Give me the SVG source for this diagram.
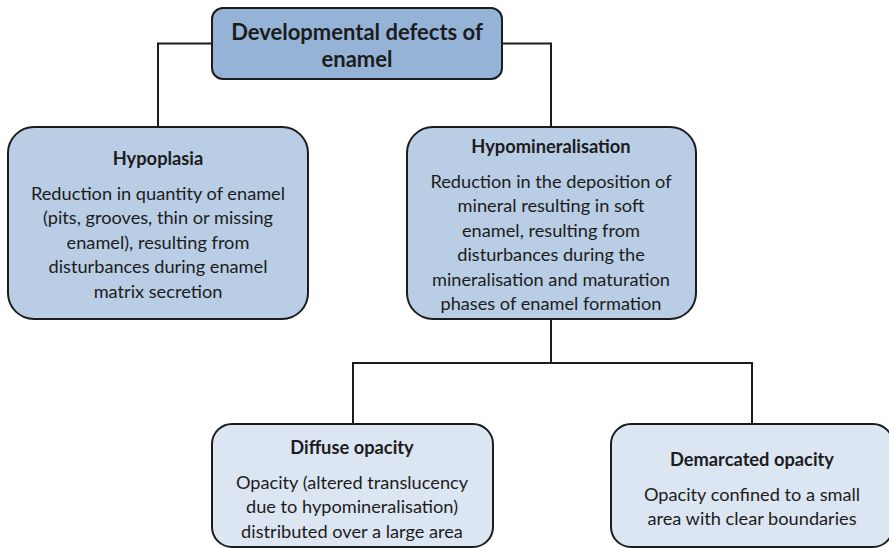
<svg xmlns="http://www.w3.org/2000/svg" width="889" height="548" viewBox="0 0 889 548">
<style>
.box{stroke:#1c1c1c;stroke-width:2}
.t{font-family:Lato,"Open Sans","Liberation Sans",sans-serif;fill:#1c1c1c;text-anchor:middle}
.h{font-weight:bold;font-size:18.3px}
.b{font-size:18.2px}
.conn{fill:none;stroke:#1c1c1c;stroke-width:2}
</style>
<rect width="889" height="548" fill="#ffffff"/>
<g id="connectors">
<path class="conn" d="M212,43.5 H158 V127"/>
<path class="conn" d="M502,43.5 H551 V127"/>
<path class="conn" d="M551,319 V363"/>
<path class="conn" d="M353,424 V363 H752 V424"/>
</g>
<g id="root">
<rect class="box" x="212" y="8" width="290" height="71" rx="11" fill="#95B3D7"/>
<text class="t" x="357" y="40" style="font-weight:bold;font-size:22px">Developmental defects of</text>
<text class="t" x="357" y="67" style="font-weight:bold;font-size:22px">enamel</text>
</g>
<g id="hypoplasia">
<rect class="box" x="8" y="127" width="300" height="192" rx="26" fill="#B9CDE5"/>
<text class="t h" x="158" y="165">Hypoplasia</text>
<text class="t b" x="158" y="199.5">Reduction in quantity of enamel</text>
<text class="t b" x="158" y="224">(pits, grooves, thin or missing</text>
<text class="t b" x="158" y="248.5">enamel), resulting from</text>
<text class="t b" x="158" y="273">disturbances during enamel</text>
<text class="t b" x="158" y="297.5">matrix secretion</text>
</g>
<g id="hypomineralisation">
<rect class="box" x="407" y="127" width="289" height="192" rx="26" fill="#B9CDE5"/>
<text class="t h" x="551" y="153">Hypomineralisation</text>
<text class="t b" x="551" y="187.5">Reduction in the deposition of</text>
<text class="t b" x="551" y="212">mineral resulting in soft</text>
<text class="t b" x="551" y="236.5">enamel, resulting from</text>
<text class="t b" x="551" y="261">disturbances during the</text>
<text class="t b" x="551" y="285.5">mineralisation and maturation</text>
<text class="t b" x="551" y="310">phases of enamel formation</text>
</g>
<g id="diffuse">
<rect class="box" x="212" y="424" width="281" height="123" rx="20" fill="#DCE6F2"/>
<text class="t h" x="352" y="454">Diffuse opacity</text>
<text class="t b" x="352" y="488.5">Opacity (altered translucency</text>
<text class="t b" x="352" y="513">due to hypomineralisation)</text>
<text class="t b" x="352" y="537.5">distributed over a large area</text>
</g>
<g id="demarcated">
<rect class="box" x="611" y="424" width="282" height="123" rx="20" fill="#DCE6F2"/>
<text class="t h" x="752" y="466">Demarcated opacity</text>
<text class="t b" x="752" y="500.5">Opacity confined to a small</text>
<text class="t b" x="752" y="525">area with clear boundaries</text>
</g>
</svg>
